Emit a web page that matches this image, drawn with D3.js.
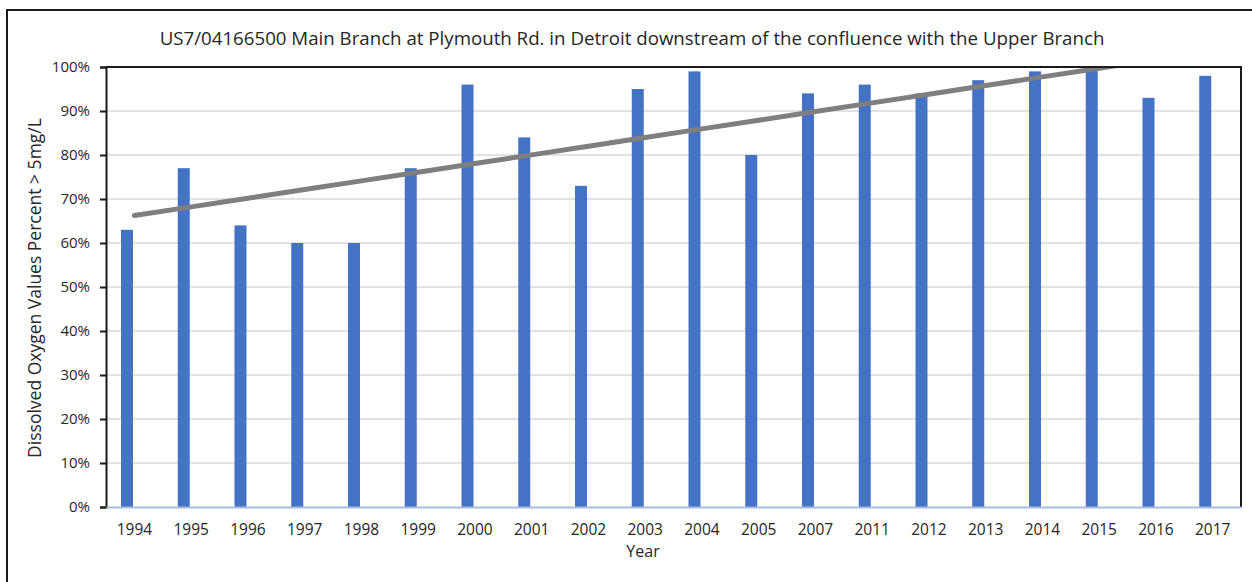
<!DOCTYPE html>
<html>
<head>
<meta charset="utf-8">
<script src="https://cdn.jsdelivr.net/npm/d3@7"></script>
<style>
  body { margin: 0; background: #fff; }
  text { font-family: "Open Sans", sans-serif; fill: #262626; }
</style>
</head>
<body>
<div id="chart"></div>
<script>
// data
let years = ["1994", "1995", "1996", "1997", "1998", "1999", "2000", "2001", "2002", "2003",
  "2004", "2005", "2007", "2011", "2012", "2013", "2014", "2015", "2016", "2017"];
let doPercent = [63, 77, 64, 60, 60, 77, 96, 84, 73, 95,
  99, 80, 94, 96, 94, 97, 99, 100, 93, 98];
let yTicks = [0, 10, 20, 30, 40, 50, 60, 70, 80, 90, 100];

let svgWidth = 1252;
let svgHeight = 582;
let margin = { top: 67, right: 11, bottom: 75, left: 106 };
let chartWidth = svgWidth - margin.left - margin.right;
let chartHeight = svgHeight - margin.top - margin.bottom;

let svg = d3.select("#chart")
  .append("svg")
  .attr("width", svgWidth)
  .attr("height", svgHeight);

// outer frame (only top and left show in the picture)
svg.append("path")
  .attr("d", `M7,${svgHeight} L7,10 L${svgWidth},10`)
  .attr("fill", "none")
  .attr("stroke", "#1a1a1a")
  .attr("stroke-width", 2);

let chartGroup = svg.append("g")
  .attr("transform", `translate(${margin.left}, ${margin.top})`);

let xScale = d3.scaleBand()
  .domain(years)
  .range([0, chartWidth]);

let yScale = d3.scaleLinear()
  .domain([0, 100])
  .range([chartHeight, 0]);

// gridlines
chartGroup.append("g")
  .selectAll("line")
  .data(yTicks.slice(1))
  .enter()
  .append("line")
  .attr("x1", 0)
  .attr("x2", chartWidth)
  .attr("y1", d => yScale(d))
  .attr("y2", d => yScale(d))
  .attr("stroke", "#d9d9d9")
  .attr("stroke-width", 1.5);

// bars sit left of the band centre (empty second series in the original)
let barW = 12;
chartGroup.append("g")
  .selectAll("rect")
  .data(doPercent)
  .enter()
  .append("rect")
  .attr("x", (d, i) => xScale(years[i]) + 15)
  .attr("y", d => yScale(d))
  .attr("width", barW)
  .attr("height", d => chartHeight - yScale(d))
  .attr("fill", "#4472c4");

// linear trendline, least squares on category index
let n = doPercent.length;
let xs = d3.range(1, n + 1);
let mx = d3.mean(xs);
let my = d3.mean(doPercent);
let slope = d3.sum(xs, (x, i) => (x - mx) * (doPercent[i] - my)) / d3.sum(xs, x => (x - mx) * (x - mx));
let intercept = my - slope * mx;
let trend = xs.map(x => intercept + slope * x);

chartGroup.append("clipPath")
  .attr("id", "plotClip")
  .append("rect")
  .attr("x", 0)
  .attr("y", 0)
  .attr("width", chartWidth)
  .attr("height", chartHeight);

let trendLine = d3.line()
  .x((d, i) => xScale(years[i]) + xScale.bandwidth() / 2)
  .y(d => yScale(d));

chartGroup.append("path")
  .datum(trend)
  .attr("d", trendLine)
  .attr("clip-path", "url(#plotClip)")
  .attr("fill", "none")
  .attr("stroke", "#7f7f7f")
  .attr("stroke-width", 5)
  .attr("stroke-linecap", "round");

// plot area frame: top and right
chartGroup.append("path")
  .attr("d", `M0,0 L${chartWidth},0 L${chartWidth},${chartHeight}`)
  .attr("fill", "none")
  .attr("stroke", "#1a1a1a")
  .attr("stroke-width", 2);

// y axis
let yAxis = d3.axisLeft(yScale)
  .tickValues(yTicks)
  .tickSize(6)
  .tickFormat(d => d + "%");

let yAxisG = chartGroup.append("g").call(yAxis);
yAxisG.select(".domain").attr("stroke", "#1a1a1a").attr("stroke-width", 2);
yAxisG.selectAll(".tick line").attr("stroke", "#1a1a1a").attr("stroke-width", 2);
yAxisG.selectAll(".tick text")
  .attr("x", -16)
  .style("font-size", "15px")
  .style("font-family", "'Open Sans', sans-serif")
  .attr("fill", "#404040");

// x axis
let xAxis = d3.axisBottom(xScale).tickSize(0);
let xAxisG = chartGroup.append("g")
  .attr("transform", `translate(0, ${chartHeight})`)
  .call(xAxis);
xAxisG.select(".domain").attr("stroke", "#a9bce0").attr("stroke-width", 2);
xAxisG.selectAll(".tick text")
  .attr("y", 17)
  .style("font-size", "15.5px")
  .style("font-family", "'Open Sans', sans-serif")
  .attr("fill", "#262626");

// title
svg.append("text")
  .attr("x", 632)
  .attr("y", 45)
  .attr("text-anchor", "middle")
  .style("font-size", "18.7px")
  .text("US7/04166500 Main Branch at Plymouth Rd. in Detroit downstream of the confluence with the Upper Branch");

// axis titles
svg.append("text")
  .attr("x", 643)
  .attr("y", 557)
  .attr("text-anchor", "middle")
  .style("font-size", "16px")
  .text("Year");

svg.append("text")
  .attr("transform", "translate(41, 288) rotate(-90)")
  .attr("text-anchor", "middle")
  .style("font-size", "17.5px")
  .text("Dissolved Oxygen Values Percent > 5mg/L");
</script>
</body>
</html>
